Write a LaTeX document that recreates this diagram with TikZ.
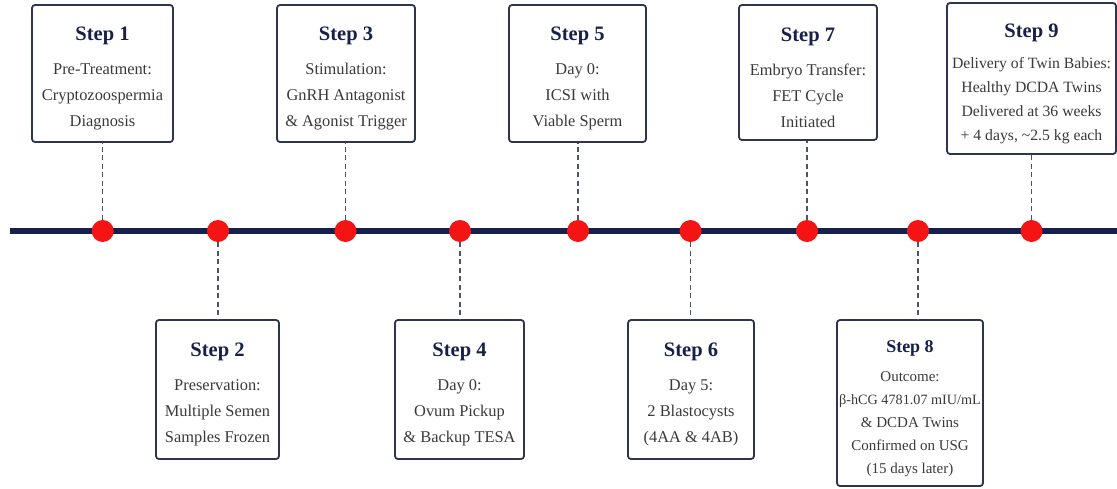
\documentclass[tikz,border=0pt]{standalone}
\usepackage{fontspec}
\setmainfont{Liberation Serif}

\definecolor{navy}{HTML}{16204A}
\definecolor{boxline}{HTML}{2E3552}
\definecolor{bodytext}{HTML}{3A3A3A}
\definecolor{dotred}{HTML}{F51414}

\newcommand{\steplabel}[2][20.5]{{\fontsize{#1}{26}\selectfont\bfseries\color{navy}\rule{0pt}{24pt}#2}}

\begin{document}
\begin{tikzpicture}[x=1pt,y=-1pt,
    step box/.style={draw=boxline,line width=1.8pt,rounded corners=3pt,fill=white,
                     align=center,inner sep=0pt,text=bodytext,font=\fontsize{16.4}{26}\selectfont},
    red dot/.style={circle,fill=dotred,minimum size=22pt,inner sep=0pt},
    link/.style={dash pattern=on 5pt off 3.5pt,line width=1.3pt,draw=boxline!85},
    timeline/.style={line width=6pt,draw=navy}]

  \useasboundingbox (0,0) rectangle (1117,488);

  \node[step box,minimum width=141pt,minimum height=137pt] (s1) at (102.5,73.5)
    {\steplabel{Step 1}\\[8pt] Pre-Treatment:\\ Cryptozoospermia\\ Diagnosis};
  \node[step box,minimum width=123pt,minimum height=139pt] (s2) at (217.5,389.5)
    {\steplabel{Step 2}\\[8pt] Preservation:\\ Multiple Semen\\ Samples Frozen};
  \node[step box,minimum width=138pt,minimum height=137pt] (s3) at (346,73.5)
    {\steplabel{Step 3}\\[8pt] Stimulation:\\ GnRH Antagonist\\ \& Agonist Trigger};
  \node[step box,minimum width=129pt,minimum height=139pt] (s4) at (459.5,389.5)
    {\steplabel{Step 4}\\[8pt] Day 0:\\ Ovum Pickup\\ \& Backup TESA};
  \node[step box,minimum width=137pt,minimum height=137pt] (s5) at (577.5,73.5)
    {\steplabel{Step 5}\\[8pt] Day 0:\\ ICSI with\\ Viable Sperm};
  \node[step box,minimum width=126pt,minimum height=139pt] (s6) at (691,389.5)
    {\steplabel{Step 6}\\[8pt] Day 5:\\ 2 Blastocysts\\ (4AA \& 4AB)};
  \node[step box,minimum width=138pt,minimum height=135pt] (s7) at (808,72.5)
    {\steplabel{Step 7}\\[8pt] Embryo Transfer:\\ FET Cycle\\ Initiated};
  \node[step box,minimum width=146pt,minimum height=166pt,font=\fontsize{15}{23}\selectfont] (s8) at (910,403)
    {\steplabel[18]{Step 8}\\[6pt] Outcome:\\ {\fontsize{14.2}{23}\selectfont β-hCG 4781.07 mIU/mL}\\
     \& DCDA Twins\\ Confirmed on USG\\ (15 days later)};
  \node[step box,minimum width=169pt,minimum height=151pt,font=\fontsize{15.7}{24}\selectfont] (s9) at (1031.5,78.5)
    {\steplabel[20.5]{Step 9}\\[7pt] Delivery of Twin Babies:\\ Healthy DCDA Twins\\
     Delivered at 36 weeks\\ + 4 days, \textasciitilde 2.5 kg each};

  \coordinate (t0) at (10,231);
  \coordinate (t1) at (1117,231);
  \draw[timeline] (t0) -- (t1);

  \node[red dot] (d1) at (102.7,231) {};
  \node[red dot] (d2) at (218,231) {};
  \node[red dot] (d3) at (345.5,231) {};
  \node[red dot] (d4) at (460,231) {};
  \node[red dot] (d5) at (578,231) {};
  \node[red dot] (d6) at (690.5,231) {};
  \node[red dot] (d7) at (807,231) {};
  \node[red dot] (d8) at (918,231) {};
  \node[red dot] (d9) at (1031.5,231) {};

  \path[link]
    (d1) edge (d1 |- s1.south)
    (d2) edge (d2 |- s2.north)
    (d3) edge (d3 |- s3.south)
    (d4) edge (d4 |- s4.north)
    (d5) edge (d5 |- s5.south)
    (d6) edge (d6 |- s6.north)
    (d7) edge (d7 |- s7.south)
    (d8) edge (d8 |- s8.north)
    (d9) edge (d9 |- s9.south)
;
\end{tikzpicture}
\end{document}
